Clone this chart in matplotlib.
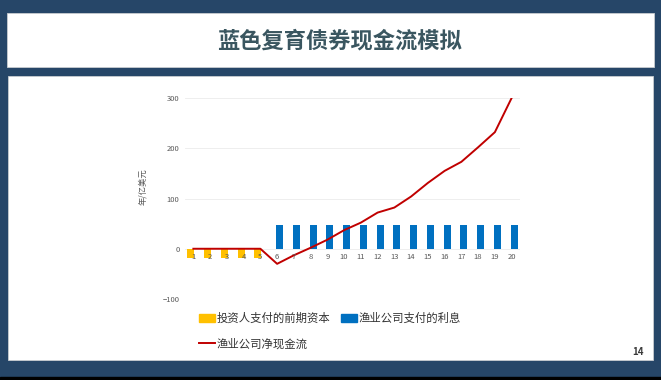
import matplotlib.pyplot as plt
from matplotlib.patches import Rectangle, Patch
from matplotlib.lines import Line2D
import numpy as np

plt.rcParams['font.family'] = ['Noto Sans CJK SC', 'DejaVu Sans']

# data (亿美元 per year)
years = list(range(1, 21))
investor_capital = [-18, -18, -18, -18, -18] + [0] * 15
interest_paid = [0] * 5 + [48] * 15
net_cash_flow = [0, 0, 0, 0, 0, -30, -13, 2, 18, 37, 52, 72, 82, 104, 131, 155, 173, 202, 232, 300]
y_ticks = [-100, 0, 100, 200, 300]

title = '蓝色复育债券现金流模拟'
y_label = '年/亿美元'
legend_labels = ['投资人支付的前期资本', '渔业公司支付的利息', '渔业公司净现金流']
page_no = '14'

W, H = 661, 380
fig = plt.figure(figsize=(W / 100, H / 100), dpi=100)
fig.patch.set_facecolor('#264668')

# slide frame: black strip, title box, content panel
fig.add_artist(Rectangle((0, 0), 1, 3 / H, transform=fig.transFigure, color='black', zorder=-2))
fig.add_artist(Rectangle((7 / W, 1 - 67 / H), 647 / W, 54 / H, transform=fig.transFigure,
                         facecolor='white', edgecolor='#c8ccd0', lw=0.6, zorder=-2))
fig.add_artist(Rectangle((8 / W, 1 - 360 / H), 645 / W, 284 / H, transform=fig.transFigure,
                         facecolor='white', edgecolor='#c8ccd0', lw=0.6, zorder=-2))
fig.text(339 / W, 1 - 41 / H, title, ha='center', va='center', fontsize=16,
         fontweight='bold', color='#3a5660')
fig.text(638 / W, 1 - 352 / H, page_no, ha='center', va='center', fontsize=7,
         fontweight='bold', color='#3a3a3a')

ax = fig.add_axes([185 / W, 1 - 299 / H, 335 / W, 201 / H])
ax.set_facecolor('none')

x = np.array(years)
ax.bar(x - 0.15, investor_capital, width=0.42, color='#FFC000', zorder=3)
ax.bar(x + 0.15, interest_paid, width=0.42, color='#0070C0', zorder=3)
ax.plot(x, net_cash_flow, color='#C00000', lw=1.4, zorder=4)

ax.set_xlim(0.5, 20.5)
ax.set_ylim(-100, 300)
ax.set_yticks(y_ticks)
ax.set_xticks(x)
ax.set_xticklabels([str(v) for v in years])
ax.grid(axis='y', color='#ebebeb', lw=0.6, zorder=0)
ax.set_axisbelow(True)
ax.xaxis.set_zorder(5)  # category labels sit on top of the small negative bars
for s in ['top', 'right', 'left']:
    ax.spines[s].set_visible(False)
ax.spines['bottom'].set_position(('data', 0))
ax.spines['bottom'].set_visible(False)
ax.tick_params(axis='both', length=0, labelsize=5.5, colors='#595959')
ax.tick_params(axis='x', pad=3)
ax.tick_params(axis='y', pad=4)
ax.set_ylabel(y_label, fontsize=6, color='#595959')
ax.yaxis.set_label_coords(-0.113, 0.557)

handles = [Patch(color='#FFC000'), Line2D([], [], color='#C00000', lw=1.4), Patch(color='#0070C0')]
labels = [legend_labels[0], legend_labels[2], legend_labels[1]]
fig.legend(handles, labels, loc='upper left', bbox_to_anchor=(199 / W, 1 - 313 / H),
           ncol=2, frameon=False, fontsize=8.2, handlelength=1.4, handletextpad=0.15,
           columnspacing=0.9, labelspacing=1.2, borderpad=0, borderaxespad=0,
           labelcolor='#333333')

fig.savefig('out.png', dpi=100, facecolor=fig.get_facecolor())
